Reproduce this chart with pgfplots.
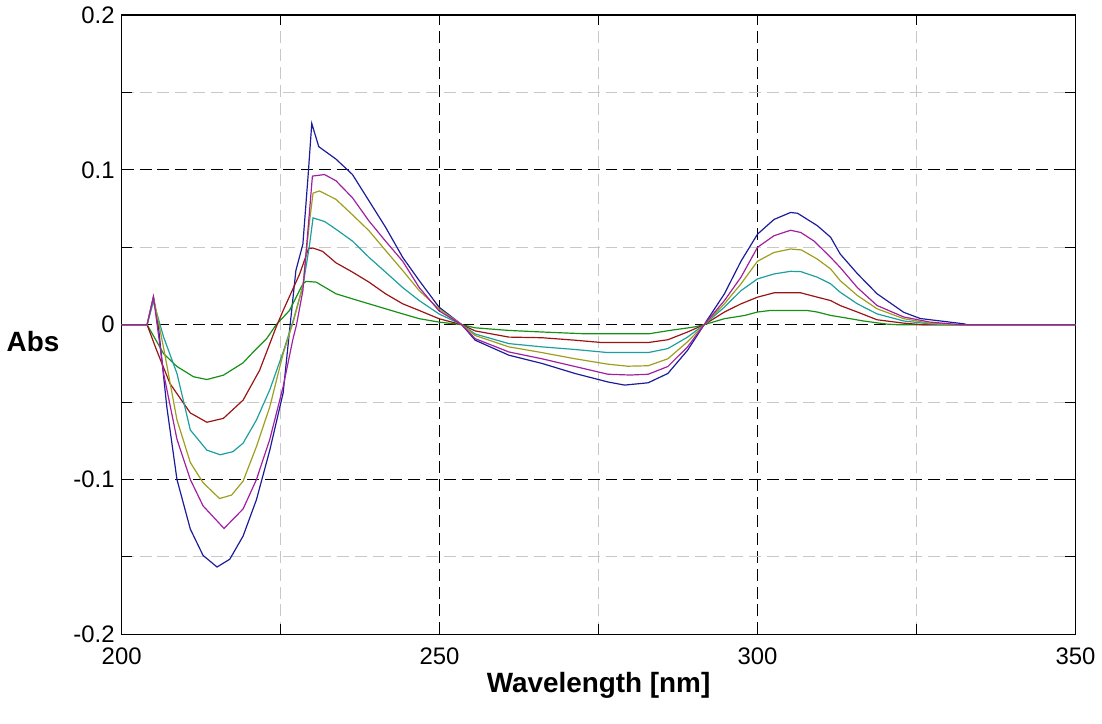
\documentclass[border=0pt]{standalone}
\usepackage{fontspec}
\setmainfont{Liberation Sans}
\usepackage{pgfplots}
\pgfplotsset{compat=1.18}
\definecolor{cBlue}{HTML}{1C1C9A}
\definecolor{cPurple}{HTML}{A020A0}
\definecolor{cOlive}{HTML}{9E9E1E}
\definecolor{cTeal}{HTML}{1E9E9E}
\definecolor{cRed}{HTML}{9A1414}
\definecolor{cGreen}{HTML}{169016}
\definecolor{MinorGrid}{HTML}{C8C8C8}

\begin{document}
\begin{tikzpicture}
\begin{axis}[
  scale only axis, width=479pt, height=311pt,
  xmin=200, xmax=350, ymin=-0.2, ymax=0.2,
  xtick={200,250,300,350}, xticklabels={200,250,300,350},
  ytick={-0.2,-0.1,0,0.1,0.2}, yticklabels={-0.2,-0.1,0,0.1,0.2},
  minor tick num=1,
  tick align=inside, major tick length=5pt, minor tick length=5pt,
  tick style={black, line width=0.5pt},
  grid=both,
  major grid style={black, line width=0.5pt, dash pattern=on 6pt off 3pt},
  minor grid style={MinorGrid, line width=0.5pt, dash pattern=on 6pt off 3pt},
  axis line style={black, line width=0.6pt},
  ticklabel style={font=\fontsize{12}{14}\selectfont},
  xticklabel style={yshift=-3pt},
  xlabel={Wavelength [nm]},
  xlabel style={font=\fontsize{14}{16}\selectfont\bfseries, yshift=3pt},
  ylabel={Abs},
  ylabel style={font=\fontsize{14}{16}\selectfont\bfseries, rotate=-90,
    at={(axis description cs:-0.058,0.473)}, anchor=east},
  every axis plot/.append style={line width=0.6pt},
  clip=true,
]
% blue
\addplot[cBlue] coordinates {(200,0)(204,0)(205,0.018)(205.8,-0.002)(207.1,-0.053)(208.7,-0.100)(210.8,-0.132)(212.8,-0.149)(215,-0.1565)(217,-0.1515)(219.1,-0.1365)(221.2,-0.113)(223.3,-0.081)(225.4,-0.044)(226.5,0)(227.4,0.035)(228.5,0.052)(229.3,0.095)(229.9,0.130)(231,0.115)(233.7,0.107)(236.3,0.097)(238.9,0.080)(241.5,0.063)(244.2,0.0435)(246.8,0.0285)(249.9,0.0114)(253.5,0)(255.6,-0.010)(260.9,-0.0197)(266.1,-0.025)(271.3,-0.0315)(276.5,-0.037)(279.1,-0.039)(282.8,-0.0375)(285.9,-0.0315)(289,-0.0165)(291.6,0)(294.8,0.020)(297.4,0.041)(300,0.0585)(302.6,0.068)(305.2,0.0725)(306.3,0.072)(309.4,0.064)(311.5,0.0565)(313,0.0457)(315.7,0.033)(318.8,0.020)(323,0.008)(325.6,0.004)(332.4,0.0006)(333,0)(350,0)};
% green
\addplot[cGreen] coordinates {(200,0)(204,0)(206.6,-0.0187)(208.7,-0.027)(211.3,-0.0336)(213.4,-0.0354)(216,-0.0326)(219.1,-0.0246)(220.7,-0.0176)(222.8,-0.009)(224.3,0)(226.4,0.0092)(228.5,0.0264)(229,0.028)(230.6,0.0275)(233.7,0.020)(236.3,0.0167)(238.9,0.0135)(241.5,0.0103)(244.2,0.007)(246.8,0.0039)(249.9,0.0017)(253.5,0)(255.6,-0.002)(260.9,-0.0037)(266.1,-0.0047)(272.5,-0.0058)(283,-0.0058)(286.2,-0.0037)(290,-0.0015)(291.6,0)(294.8,0.0039)(298,0.006)(300,0.0082)(302,0.0092)(307.8,0.0092)(309.4,0.0082)(311.5,0.006)(313,0.005)(316.7,0.0024)(320.3,0.0004)(322,0)(350,0)};
% red
\addplot[cRed] coordinates {(200,0)(204,0)(205.5,-0.0165)(207.6,-0.038)(210.8,-0.057)(213.4,-0.063)(216,-0.0605)(219.1,-0.0487)(221.7,-0.0294)(224.3,-0.0015)(225.4,0.0092)(228,0.0328)(229.4,0.0493)(230.1,0.0495)(231.6,0.0474)(233.7,0.040)(236.3,0.034)(238.9,0.0275)(241.5,0.020)(244.2,0.0135)(246.8,0.0092)(249.9,0.0039)(253.5,0)(255.6,-0.004)(260.9,-0.008)(266.1,-0.0084)(271.3,-0.010)(275.5,-0.0115)(282.8,-0.0115)(285.9,-0.0097)(289,-0.0047)(291.6,0)(294.8,0.0082)(297.4,0.0135)(300,0.0178)(302.6,0.0206)(306.8,0.0206)(309.4,0.0178)(311.5,0.0156)(313,0.0124)(315.7,0.0082)(318.8,0.0032)(323,0.001)(326,0)(350,0)};
% teal
\addplot[cTeal] coordinates {(200,0)(204,0)(205,0.015)(206.6,-0.008)(208.7,-0.0315)(210.8,-0.068)(213.4,-0.081)(215.5,-0.084)(217.5,-0.082)(219.1,-0.0765)(221.2,-0.0615)(223.3,-0.042)(225.4,-0.0176)(227,0.003)(228.5,0.025)(229.5,0.05)(230.1,0.069)(231.9,0.0667)(233.7,0.0617)(236.3,0.054)(238.9,0.0435)(241.5,0.034)(244.2,0.024)(246.8,0.0156)(249.9,0.007)(253.5,0)(255.6,-0.006)(260.9,-0.0122)(266.1,-0.0143)(271.3,-0.016)(276.5,-0.018)(282.8,-0.018)(285.9,-0.0154)(289,-0.008)(291.6,0)(294.8,0.0114)(297.4,0.022)(300,0.0296)(302.6,0.0328)(305.2,0.0345)(306.8,0.0343)(309.4,0.0307)(311.5,0.0264)(313,0.021)(315.7,0.0135)(318.8,0.007)(323,0.0024)(327,0.0006)(330,0)(350,0)};
% olive
\addplot[cOlive] coordinates {(200,0)(204,0)(205,0.018)(206.6,-0.015)(208.7,-0.0615)(210.8,-0.089)(212.8,-0.102)(215.4,-0.1123)(217.3,-0.110)(219.1,-0.101)(221.2,-0.0787)(223.3,-0.053)(225.4,-0.0187)(227,0.002)(228.5,0.025)(229.5,0.065)(230.1,0.085)(231.1,0.0864)(233.7,0.081)(236.3,0.071)(238.9,0.0607)(241.5,0.048)(244.2,0.035)(246.8,0.022)(249.9,0.0103)(253.5,0)(255.6,-0.007)(260.9,-0.0143)(266.1,-0.018)(271.3,-0.022)(276.5,-0.0255)(279.6,-0.0268)(282.8,-0.0265)(285.9,-0.022)(289,-0.011)(291.6,0)(294.8,0.0135)(297.4,0.0264)(300,0.041)(302.6,0.0467)(305.2,0.0489)(306.9,0.0483)(309.4,0.0424)(311.5,0.036)(313,0.0285)(315.7,0.0189)(318.8,0.0103)(323,0.0039)(327,0.001)(331,0)(350,0)};
% purple
\addplot[cPurple] coordinates {(200,0)(204,0)(205,0.018)(206.6,-0.0315)(208.7,-0.074)(210.8,-0.100)(212.8,-0.117)(216.1,-0.1316)(219.1,-0.119)(221.2,-0.100)(223.3,-0.074)(225.4,-0.040)(226.9,-0.010)(227.5,0)(228.5,0.022)(229.5,0.071)(230,0.096)(231.9,0.097)(233.7,0.093)(236.3,0.082)(238.9,0.067)(241.5,0.054)(244.2,0.041)(246.8,0.024)(249.9,0.009)(253.5,0)(255.6,-0.009)(260.9,-0.0176)(266.1,-0.022)(271.3,-0.027)(276.5,-0.032)(280,-0.0325)(282.8,-0.032)(285.9,-0.027)(289,-0.0143)(291.6,0)(294.8,0.0156)(297.4,0.0307)(300,0.050)(302.6,0.0575)(305.2,0.061)(306.8,0.0596)(308.9,0.054)(311.5,0.0435)(313,0.037)(315.7,0.024)(318.8,0.0124)(323,0.005)(327.1,0.0017)(332,0)(350,0)};
\end{axis}
\draw[draw=none] (current axis.south west) -- ++(0,-45pt);
\end{tikzpicture}
\end{document}
